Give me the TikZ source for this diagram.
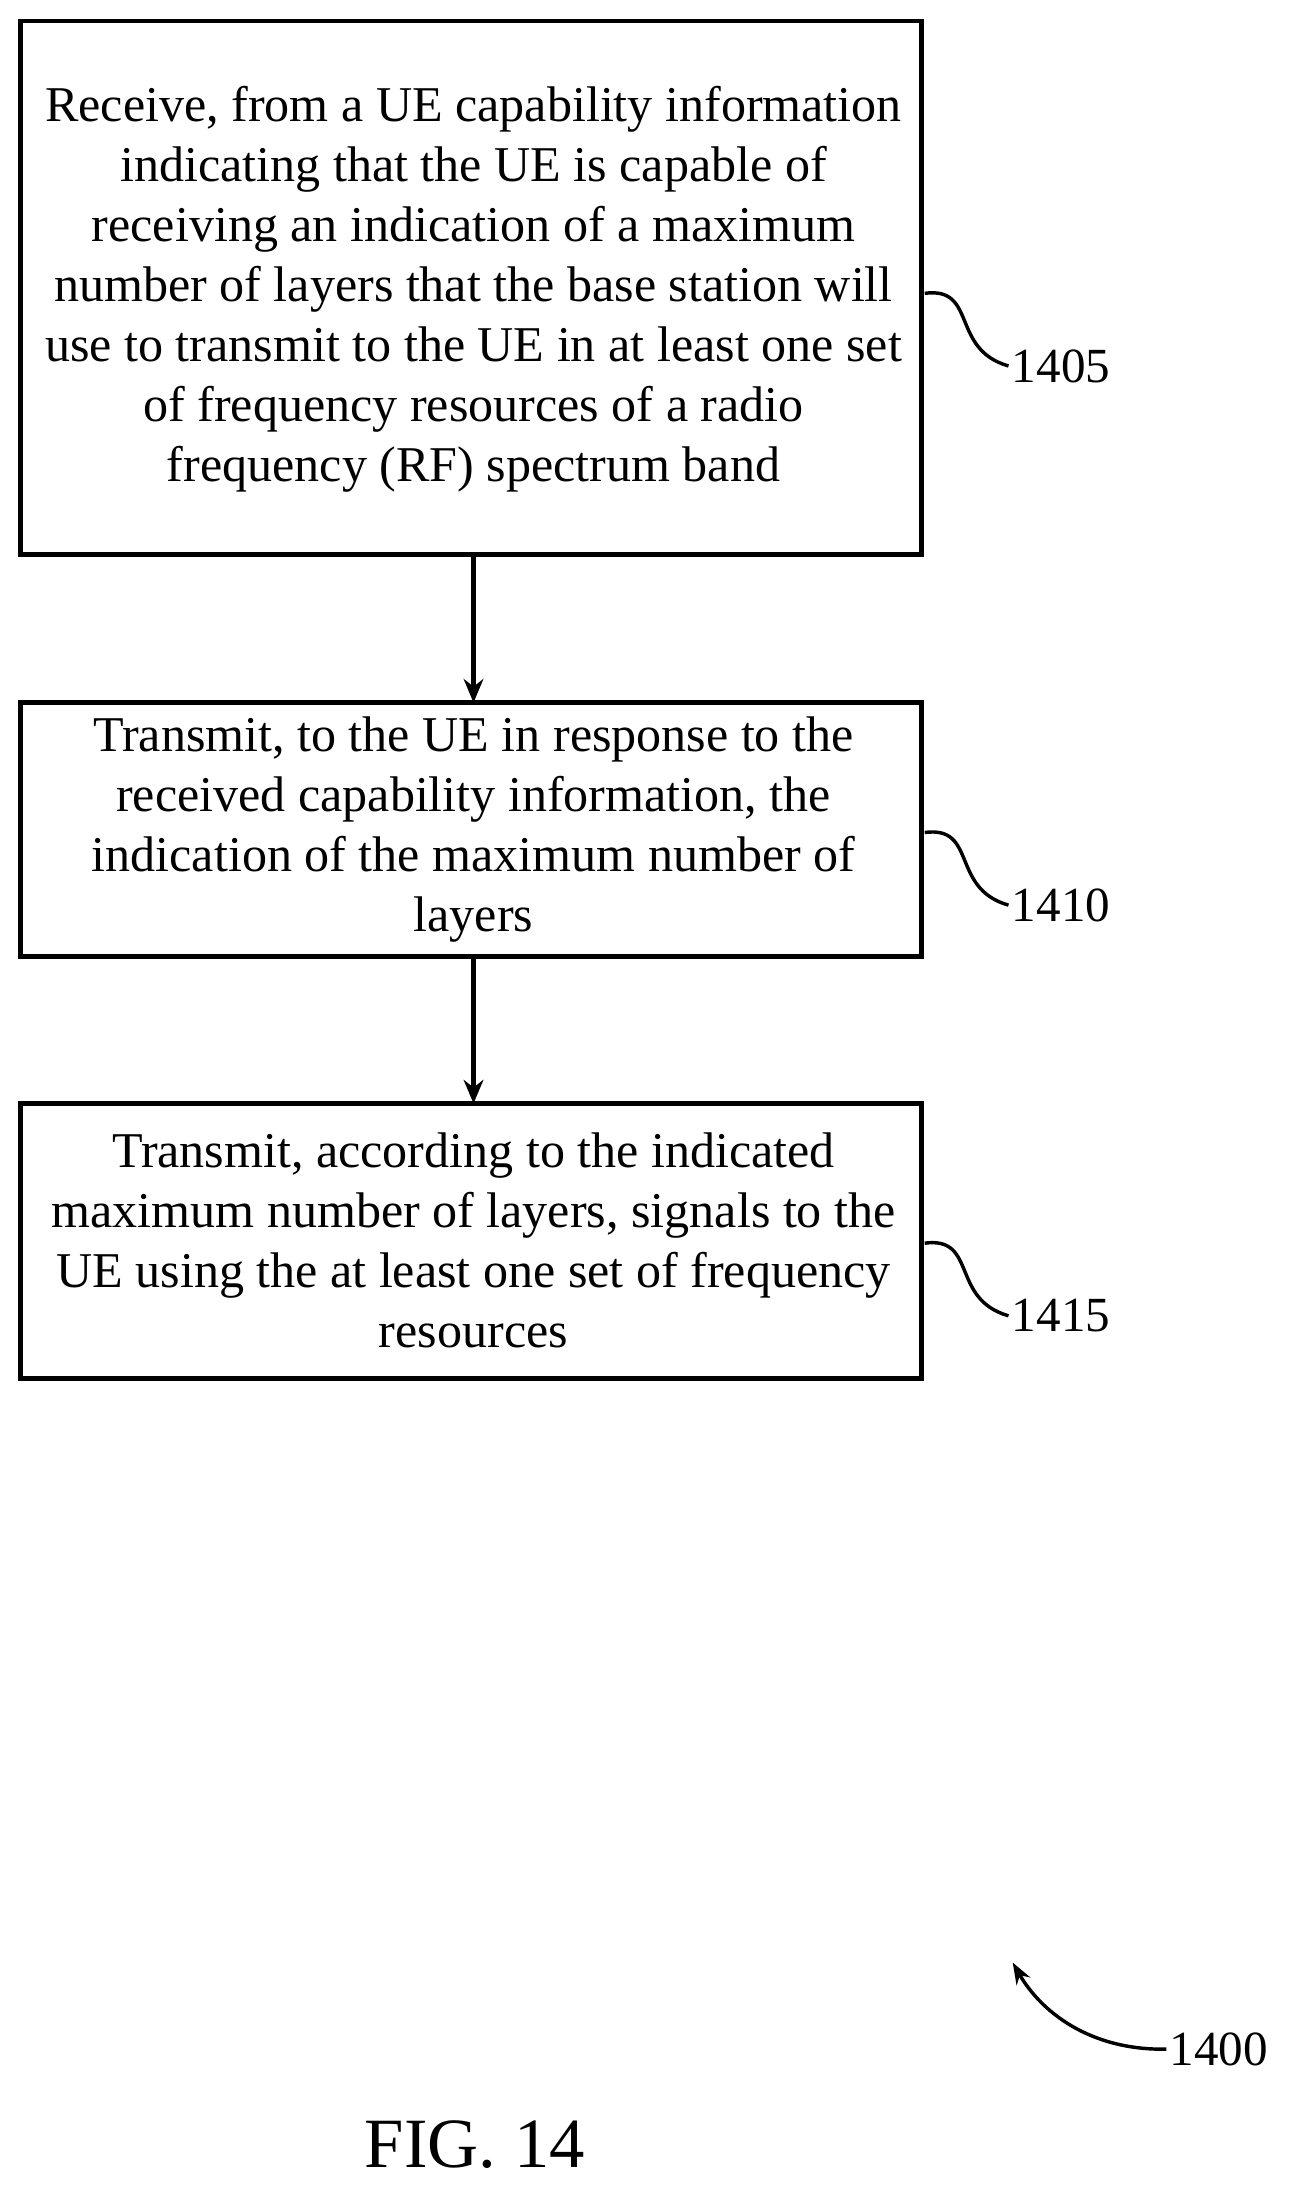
\documentclass[tikz,border=0pt]{standalone}
\usepackage{fontspec}
\setmainfont{Liberation Serif}
\usetikzlibrary{arrows.meta}
\begin{document}
\begin{tikzpicture}[x=0.05cm,y=-0.05cm,
  box/.style={draw,line width=5pt,inner sep=0pt},
  txt/.style={align=center,font=\fontsize{51}{61}\selectfont},
  lbl/.style={font=\fontsize{50}{61}\selectfont,anchor=west},
  arr/.style={line width=5pt,-{Stealth[length=24pt,width=20pt]}},
  sq/.style={line width=3.5pt}]
\useasboundingbox (0,0) rectangle (940,1570);
\draw[box] (15,15) rectangle (660,397);
\coordinate (b1b) at (339,397);
\node[txt] (t1) at (339,207) {Receive, from a UE capability information\\indicating that the UE is capable of\\receiving an indication of a maximum\\number of layers that the base station will\\use to transmit to the UE in at least one set\\of frequency resources of a radio\\frequency (RF) spectrum band};
\draw[box] (15,503) rectangle (660,685);
\coordinate (b2t) at (339,503);\coordinate (b2b) at (339,685);
\node[txt] (t2) at (339,594) {Transmit, to the UE in response to the\\received capability information, the\\indication of the maximum number of\\layers};
\draw[box] (15,790) rectangle (660,987);
\coordinate (b3t) at (339,790);
\node[txt] (t3) at (339,888) {Transmit, according to the indicated\\maximum number of layers, signals to the\\UE using the at least one set of frequency\\resources};
\draw[arr] (b1b) -- (b2t);
\draw[arr] (b2b) -- (b3t);
\node[lbl] (l1) at (722,262) {1405};
\node[lbl] (l2) at (722,648) {1410};
\node[lbl] (l3) at (722,942) {1415};
\draw[sq] (662,210) .. controls (700,205) and (680,250) .. (l1.west);
\draw[sq] (662,596) .. controls (700,591) and (680,636) .. (l2.west);
\draw[sq] (662,890) .. controls (700,885) and (680,930) .. (l3.west);
\node[lbl] (l4) at (835,1467) {1400};
\draw[line width=3.5pt,-{Stealth[length=22pt,width=16pt]}] (l4.west) .. controls (780,1468) and (745,1440) .. (725,1405);
\node[font=\fontsize{72}{80}\selectfont] (fig) at (340,1535) {FIG. 14};
\end{tikzpicture}
\end{document}
